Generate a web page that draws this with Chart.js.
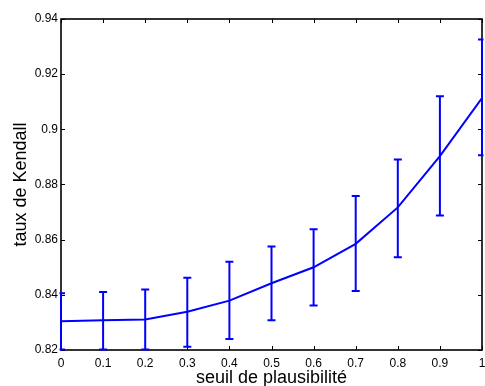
<!DOCTYPE html>
<html>
<head>
<meta charset="utf-8">
<script src="https://cdn.jsdelivr.net/npm/chart.js@4.4.1/dist/chart.umd.min.js"></script>
<style>
  body { margin: 0; background: #fff; }
  #wrap { width: 485px; height: 386px; }
</style>
</head>
<body>
<div id="wrap"><canvas id="kendall" width="485" height="386"></canvas></div>
<script>
// seuil de plausibilité (x) et taux de Kendall moyen (y) avec barres d'erreur
const seuils = [0, 0.1, 0.2, 0.3, 0.4, 0.5, 0.6, 0.7, 0.8, 0.9, 1];
const moyenne = [0.8304, 0.8308, 0.8311, 0.8339, 0.8379, 0.8442, 0.8500, 0.8585, 0.8717, 0.8903, 0.9113];
const borneHaute = [0.8406, 0.8410, 0.8419, 0.8462, 0.8520, 0.8575, 0.8638, 0.8758, 0.8891, 0.9120, 0.9326];
const borneBasse = [0.8202, 0.8202, 0.8202, 0.8212, 0.8240, 0.8308, 0.8361, 0.8414, 0.8536, 0.8688, 0.8906];

const xTickVals = [0, 0.1, 0.2, 0.3, 0.4, 0.5, 0.6, 0.7, 0.8, 0.9, 1];
const xTickLabels = ["0", "0.1", "0.2", "0.3", "0.4", "0.5", "0.6", "0.7", "0.8", "0.9", "1"];
const yTickVals = [0.82, 0.84, 0.86, 0.88, 0.9, 0.92, 0.94];
const yTickLabels = ["0.82", "0.84", "0.86", "0.88", "0.9", "0.92", "0.94"];

const BLEU = "#0000ff";
const FONTE = "'Liberation Sans', Arial, Helvetica, sans-serif";

// cadre noir façon matlab, graduations vers l'intérieur sur les 4 côtés
const cadre = {
  id: "cadre",
  beforeDatasetsDraw(chart) {
    const c = chart.ctx, a = chart.chartArea;
    const sx = chart.scales.x, sy = chart.scales.y;
    c.save();
    c.strokeStyle = "#000";
    c.lineWidth = 1;
    c.beginPath();
    xTickVals.forEach(v => {
      const px = Math.round(sx.getPixelForValue(v)) + 0.5;
      c.moveTo(px, a.bottom); c.lineTo(px, a.bottom - 4);
      c.moveTo(px, a.top); c.lineTo(px, a.top + 4);
    });
    yTickVals.forEach(v => {
      const py = Math.round(sy.getPixelForValue(v)) + 0.5;
      c.moveTo(a.left, py); c.lineTo(a.left + 4, py);
      c.moveTo(a.right, py); c.lineTo(a.right - 4, py);
    });
    c.stroke();
    c.lineWidth = 1.6;
    c.strokeRect(a.left, a.top, a.right - a.left, a.bottom - a.top);
    c.restore();
  }
};

// barres d'erreur dessinées via les échelles
const barres = {
  id: "barres",
  afterDatasetsDraw(chart) {
    const c = chart.ctx, a = chart.chartArea;
    const sx = chart.scales.x, sy = chart.scales.y;
    c.save();
    c.beginPath();
    c.rect(a.left - 1.5, a.top - 1.5, a.right - a.left + 3, a.bottom - a.top + 3);
    c.clip();
    c.strokeStyle = BLEU;
    c.lineWidth = 2;
    seuils.forEach((s, i) => {
      const px = sx.getPixelForValue(s);
      const yh = sy.getPixelForValue(borneHaute[i]);
      const yb = sy.getPixelForValue(borneBasse[i]);
      c.beginPath();
      c.moveTo(px, yh); c.lineTo(px, yb);
      c.moveTo(px - 4, yh); c.lineTo(px + 4, yh);
      c.moveTo(px - 4, yb); c.lineTo(px + 4, yb);
      c.stroke();
    });
    c.restore();
  }
};

new Chart(document.getElementById("kendall"), {
  type: "line",
  data: {
    datasets: [{
      data: seuils.map((s, i) => ({ x: s, y: moyenne[i] })),
      borderColor: BLEU,
      borderWidth: 2,
      pointRadius: 0,
      tension: 0,
      fill: false
    }]
  },
  options: {
    responsive: false,
    animation: false,
    layout: { padding: { top: 19, right: 3, left: 0, bottom: 0 } },
    plugins: { legend: { display: false }, tooltip: { enabled: false } },
    scales: {
      x: {
        type: "linear",
        min: 0, max: 1,
        afterBuildTicks: s => { s.ticks = xTickVals.map(v => ({ value: v })); },
        afterFit: s => { s.height = 36; s.paddingLeft = 0; s.paddingRight = 0; },
        grid: { display: false, drawTicks: false },
        border: { display: false },
        ticks: {
          color: "#000",
          padding: 6.5,
          maxRotation: 0,
          autoSkip: false,
          font: { family: FONTE, size: 12 },
          callback: (v, i) => xTickLabels[i]
        },
        title: {
          display: true,
          text: "seuil de plausibilité",
          color: "#000",
          font: { family: FONTE, size: 18, lineHeight: 0.85 },
          padding: { top: 0, bottom: 0 }
        }
      },
      y: {
        type: "linear",
        min: 0.82, max: 0.94,
        afterBuildTicks: s => { s.ticks = yTickVals.map(v => ({ value: v })); },
        afterFit: s => { s.width = 61; s.paddingTop = 0; s.paddingBottom = 0; },
        grid: { display: false, drawTicks: false },
        border: { display: false },
        ticks: {
          color: "#000",
          padding: 3,
          autoSkip: false,
          font: { family: FONTE, size: 12 },
          callback: (v, i) => yTickLabels[i]
        },
        title: {
          display: true,
          text: "taux de Kendall",
          color: "#000",
          font: { family: FONTE, size: 18, lineHeight: 1.2 },
          padding: { top: 10, bottom: 0 }
        }
      }
    }
  },
  plugins: [cadre, barres]
});
</script>
</body>
</html>
